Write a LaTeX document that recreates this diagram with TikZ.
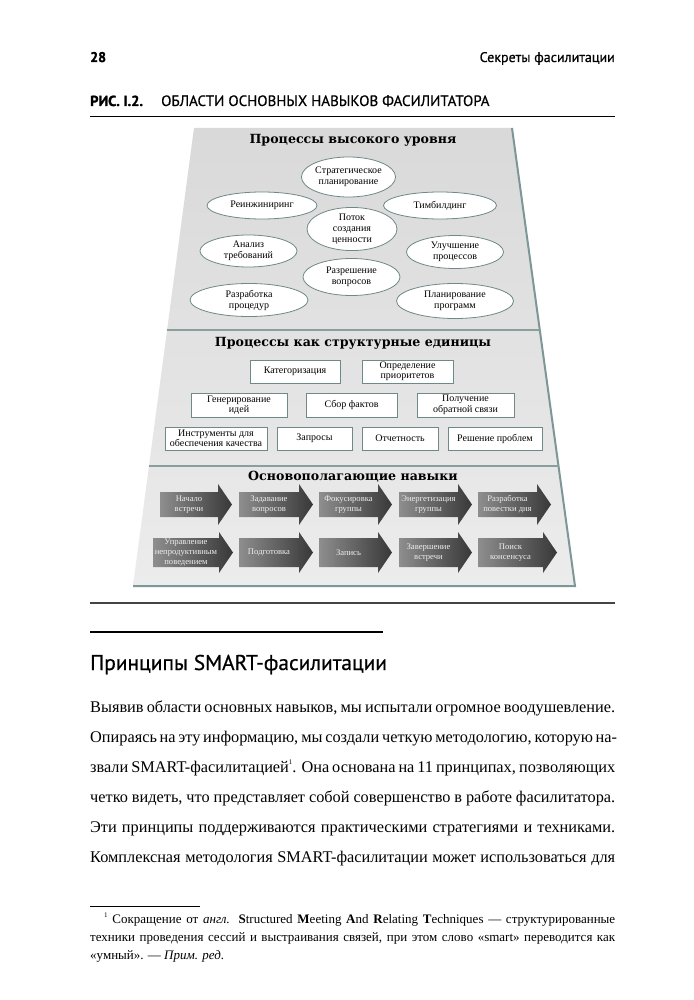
\documentclass[tikz,border=0pt]{standalone}
\usepackage{fontspec}
\setmainfont{Liberation Serif}
\setsansfont{PT Sans}
\newfontfamily\titlefont{DejaVu Serif}
\newfontfamily\headfont{PT Sans}[FakeBold=0.6]
\newfontfamily\heavyfont{PT Sans Bold}[FakeBold=1.5]
\usetikzlibrary{calc,shapes.geometric}
\definecolor{ebord}{HTML}{6F8888}
\definecolor{edgeC}{HTML}{7E9696}
\definecolor{sepC}{HTML}{8A9E9E}
\definecolor{trapTop}{HTML}{D9D9D9}
\definecolor{trapBot}{HTML}{ECECEC}
\definecolor{arrL}{HTML}{8E8E8E}
\definecolor{arrR}{HTML}{383838}
\definecolor{arrtxt}{HTML}{EEEEEE}
\definecolor{ruleC}{HTML}{444444}
\newcommand\skarrow[6]{%
  \shade[left color=arrL, right color=arrR]
    ({#2},{#4-#5}) -- ({#3-14},{#4-#5}) -- ({#3-14},{#4-20.5}) -- ({#3},{#4})
    -- ({#3-14},{#4+20.5}) -- ({#3-14},{#4+#5}) -- ({#2},{#4+#5}) -- cycle;
  \node[arrtext] (#1) at ({(#2+#3-14)/2},{#4}) {#6};}
\newcommand\fnmark{\raisebox{0.45em}{\fontsize{7}{7}\selectfont 1}}
\begin{document}
\begin{tikzpicture}[x=1pt,y=-1pt,
  ell/.style={ellipse, draw=ebord, fill=white, line width=0.8, inner sep=0, align=center, font=\fontsize{10}{11}\selectfont},
  rbox/.style={rectangle, draw=ebord, fill=white, line width=0.8, inner sep=0, align=center, font=\fontsize{10}{10.5}\selectfont},
  arrtext/.style={align=center, text=arrtxt, font=\fontsize{8.6}{9.6}\selectfont, inner sep=0},
  ttl/.style={font=\titlefont\bfseries\fontsize{12.6}{12.6}\selectfont, inner sep=0},
  bodyline/.style={anchor=base west, inner sep=0, font=\fontsize{16.3}{20}\selectfont},
  footline/.style={anchor=base west, inner sep=0, font=\fontsize{13}{15}\selectfont},
]
\useasboundingbox (0,0) rectangle (693,1000);
\fill[white] (0,0) rectangle (693,1000);

% header
\node[anchor=base west, inner sep=0, font=\heavyfont\fontsize{14}{14}\selectfont] (pnum) at (90,62) {28};
\node[anchor=base east, inner sep=0, font=\headfont\fontsize{14}{14}\selectfont] (runhead) at (615,62) {Секреты фасилитации};
\node[anchor=base west, inner sep=0, font=\heavyfont\fontsize{14.5}{14.5}\selectfont] (fignum) at (90,106) {РИС. I.2.};
\node[anchor=base west, inner sep=0, font=\headfont\fontsize{15}{15}\selectfont] (figcap) at (161,106) {ОБЛАСТИ ОСНОВНЫХ НАВЫКОВ ФАСИЛИТАТОРА};
\draw[black, line width=0.9] (90,116) -- (615,116);

% trapezoid
\coordinate (TL) at (194,128);
\coordinate (TR) at (512,128);
\coordinate (BR) at (575,586);
\coordinate (BL) at (133,586);
\shade[top color=trapTop, bottom color=trapBot] (TL) -- (TR) -- (BR) -- (BL) -- cycle;
\draw[edgeC, line width=2] (TR) -- (BR) -- (BL);
\draw[sepC, line width=1.6] ($(TL)!0.441!(BL)$) -- ($(TR)!0.441!(BR)$);
\draw[sepC, line width=1.6] ($(TL)!0.738!(BL)$) -- ($(TR)!0.738!(BR)$);

% section 1
\node[ttl] (t1) at (353,140) {Процессы высокого уровня};
\node[ell, minimum width=87, minimum height=40] (strat) at (348.5,177) {Стратегическое\\планирование};
\node[ell, minimum width=110, minimum height=27] (reeng) at (262,205.5) {Реинжиниринг};
\node[ell, minimum width=113, minimum height=27] (team) at (440,205.5) {Тимбилдинг};
\node[ell, minimum width=90, minimum height=42] (potok) at (352,229) {Поток\\создания\\ценности};
\node[ell, minimum width=97, minimum height=32] (analiz) at (248.5,251) {Анализ\\требований};
\node[ell, minimum width=97, minimum height=33] (uluch) at (455,252) {Улучшение\\процессов};
\node[ell, minimum width=97, minimum height=37] (razresh) at (351.5,277) {Разрешение\\вопросов};
\node[ell, minimum width=118, minimum height=33] (razrab) at (249,300) {Разработка\\процедур};
\node[ell, minimum width=117, minimum height=35] (plan) at (455,301) {Планирование\\программ};

% section 2
\node[ttl] (t2) at (353,343) {Процессы как структурные единицы};
\node[rbox, minimum width=90, minimum height=23] (kat) at (295,371.5) {Категоризация};
\node[rbox, minimum width=91, minimum height=23] (opred) at (407.5,371.5) {Определение\\приоритетов};
\node[rbox, minimum width=96, minimum height=24] (gen) at (239,405) {Генерирование\\идей};
\node[rbox, minimum width=91, minimum height=24] (sbor) at (351.5,405) {Сбор фактов};
\node[rbox, minimum width=97, minimum height=24] (poluch) at (465.5,405) {Получение\\обратной связи};
\node[rbox, minimum width=102, minimum height=23] (instr) at (216,438.5) {Инструменты для\\обеспечения качества};
\node[rbox, minimum width=75, minimum height=23] (zapr) at (314.5,438.5) {Запросы};
\node[rbox, minimum width=76, minimum height=23] (otch) at (400,438.5) {Отчетность};
\node[rbox, minimum width=94, minimum height=23] (resh) at (495,438.5) {Решение проблем};

% section 3
\node[ttl] (t3) at (353,477) {Основополагающие навыки};
\skarrow{a1}{160}{232}{504.5}{12.5}{Начало\\встречи}
\skarrow{a2}{239}{313}{504.5}{12.5}{Задавание\\вопросов}
\skarrow{a3}{319}{392}{504.5}{12.5}{Фокусировка\\группы}
\skarrow{a4}{399}{472}{504.5}{12.5}{Энергетизация\\группы}
\skarrow{a5}{478}{551}{504.5}{12.5}{Разработка\\повестки дня}
\skarrow{b1}{153}{233}{552.5}{14.5}{Управление\\непродуктивным\\поведением}
\skarrow{b2}{239}{313}{552.5}{14.5}{Подготовка}
\skarrow{b3}{319}{392}{552.5}{14.5}{Запись}
\skarrow{b4}{399}{472}{552.5}{14.5}{Завершение\\встречи}
\skarrow{b5}{478}{557}{552.5}{14.5}{Поиск\\консенсуса}

\draw[ruleC, line width=2] (90,603) -- (615,603);

% section heading
\draw[black, line width=1.2] (90,632) -- (383,632);
\node[anchor=base west, inner sep=0, font=\headfont\fontsize{21.4}{22}\selectfont] (head) at (90,670) {Принципы SMART-фасилитации};

% body text
\node[bodyline] (l1) at (90,712) {\makebox[525pt][s]{Выявив области основных навыков, мы испытали огромное воодушевление.}};
\node[bodyline] (l2) at (90,742) {\makebox[525pt][s]{Опираясь на эту информацию, мы создали четкую методологию, которую на-}};
\node[bodyline] (l3) at (90,772) {\makebox[525pt][s]{звали SMART-фасилитацией\fnmark. Она основана на 11 принципах, позволяющих}};
\node[bodyline] (l4) at (90,802) {\makebox[525pt][s]{четко видеть, что представляет собой совершенство в работе фасилитатора.}};
\node[bodyline] (l5) at (90,832) {\makebox[525pt][s]{Эти принципы поддерживаются практическими стратегиями и техниками.}};
\node[bodyline] (l6) at (90,862) {\makebox[525pt][s]{Комплексная методология SMART-фасилитации может использоваться для}};

% footnote
\draw[black, line width=0.8] (90,906) -- (200,906);
\node[footline] (f1) at (104,923) {\makebox[511pt][s]{\fnmark\ Сокращение от \textit{англ.} \textbf{S}tructured \textbf{M}eeting \textbf{A}nd \textbf{R}elating \textbf{T}echniques — структурированные}};
\node[footline] (f2) at (90,941) {\makebox[525pt][s]{техники проведения сессий и выстраивания связей, при этом слово «smart» переводится как}};
\node[footline] (f3) at (90,959) {«умный». — \textit{Прим. ред.}};
\end{tikzpicture}
\end{document}
